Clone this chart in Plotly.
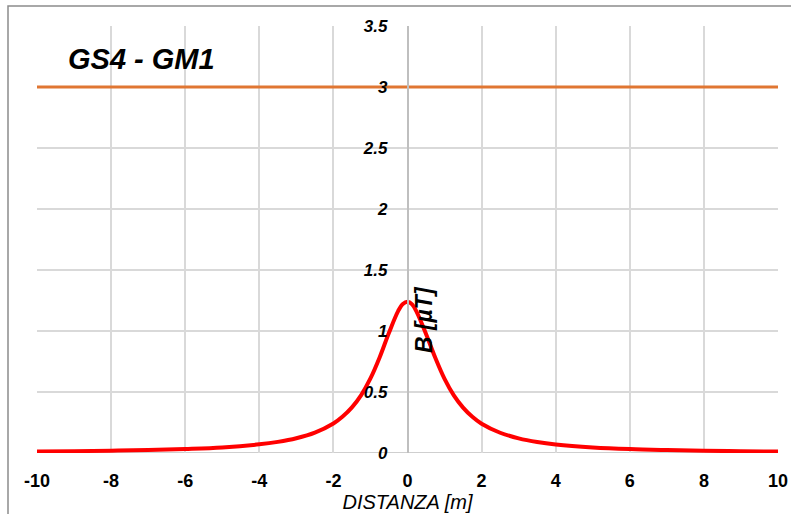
import plotly.graph_objects as go

# data
distanza = [-10, -9, -8, -7, -6, -5, -4, -3.5, -3, -2.5, -2, -1.75, -1.5, -1.25, -1,
            -0.75, -0.5, -0.25, -0.125, 0, 0.125, 0.25, 0.5, 0.75, 1, 1.25, 1.5, 1.75,
            2, 2.5, 3, 3.5, 4, 5, 6, 7, 8, 9, 10]
b_field = [0.012, 0.015, 0.019, 0.024, 0.033, 0.046, 0.071, 0.091, 0.121, 0.167, 0.242,
           0.299, 0.374, 0.475, 0.611, 0.785, 0.986, 1.165, 1.222, 1.24, 1.218, 1.155,
           0.976, 0.780, 0.607, 0.472, 0.372, 0.297, 0.240, 0.166, 0.120, 0.090, 0.070,
           0.046, 0.032, 0.024, 0.018, 0.015, 0.012]
limit_x = [-10, 10]
limit_y = [3, 3]

x_ticks = [-10, -8, -6, -4, -2, 0, 2, 4, 6, 8, 10]
y_ticks = [0, 0.5, 1, 1.5, 2, 2.5, 3, 3.5]

FONT = "Liberation Sans, Arial, sans-serif"

fig = go.Figure()
fig.add_trace(go.Scatter(x=limit_x, y=limit_y, mode="lines",
                         line=dict(color="#E07632", width=3), showlegend=False))
fig.add_trace(go.Scatter(x=distanza, y=b_field, mode="lines",
                         line=dict(color="#FF0000", width=4, shape="spline", smoothing=1),
                         showlegend=False))

fig.update_layout(
    width=791, height=514,
    margin=dict(l=37, r=13, t=26, b=61, autoexpand=False),
    paper_bgcolor="white", plot_bgcolor="white",
    font=dict(family=FONT, color="black"),
    title=dict(text="<b><i>GS4 - GM1</i></b>", font=dict(size=29, family=FONT),
               x=68 / 791, xanchor="left", xref="container",
               y=1 - 59 / 514, yanchor="middle", yref="container"),
    xaxis=dict(range=[-10, 10], tickvals=x_ticks,
               ticktext=[f"<b>{v}</b>" for v in x_ticks],
               tickfont=dict(size=18, family=FONT),
               showgrid=True, gridcolor="#D9D9D9", gridwidth=1.5,
               zeroline=False, showline=False, ticks="",
               ticklabelstandoff=15, automargin=False,
               title=dict(text="<i>DISTANZA [m]</i>", font=dict(size=20, family=FONT),
                          standoff=0)),
    yaxis=dict(range=[0, 3.5], tickvals=y_ticks,
               ticktext=[f"<b><i>{v:g}</i></b>" for v in y_ticks],
               tickfont=dict(size=17, family=FONT),
               anchor="free", position=0.5, automargin=False,
               showgrid=True, gridcolor="#D9D9D9", gridwidth=1.5,
               zeroline=False, showline=True, linecolor="#BFBFBF", linewidth=1.5,
               ticks="", ticklabelstandoff=16),
    shapes=[
        dict(type="line", xref="x", yref="y", x0=-10, x1=10, y0=0, y1=0,
             line=dict(color="#BFBFBF", width=1.5), layer="below"),
        dict(type="rect", xref="paper", yref="paper",
             x0=-29 / 741, x1=1.1, y0=1 + 20 / 427, y1=-0.3,
             line=dict(color="#8C8C8C", width=1.5), layer="below"),
    ],
    annotations=[
        dict(text="<b><i>B [µT]</i></b>", xref="x", yref="y", x=0.43, y=1.093,
             textangle=-90, showarrow=False, font=dict(size=23, family=FONT)),
    ],
)

fig.write_html("out.html", config={"displayModeBar": False},
               post_script="document.body.style.margin='0';document.body.style.overflow='hidden';")
